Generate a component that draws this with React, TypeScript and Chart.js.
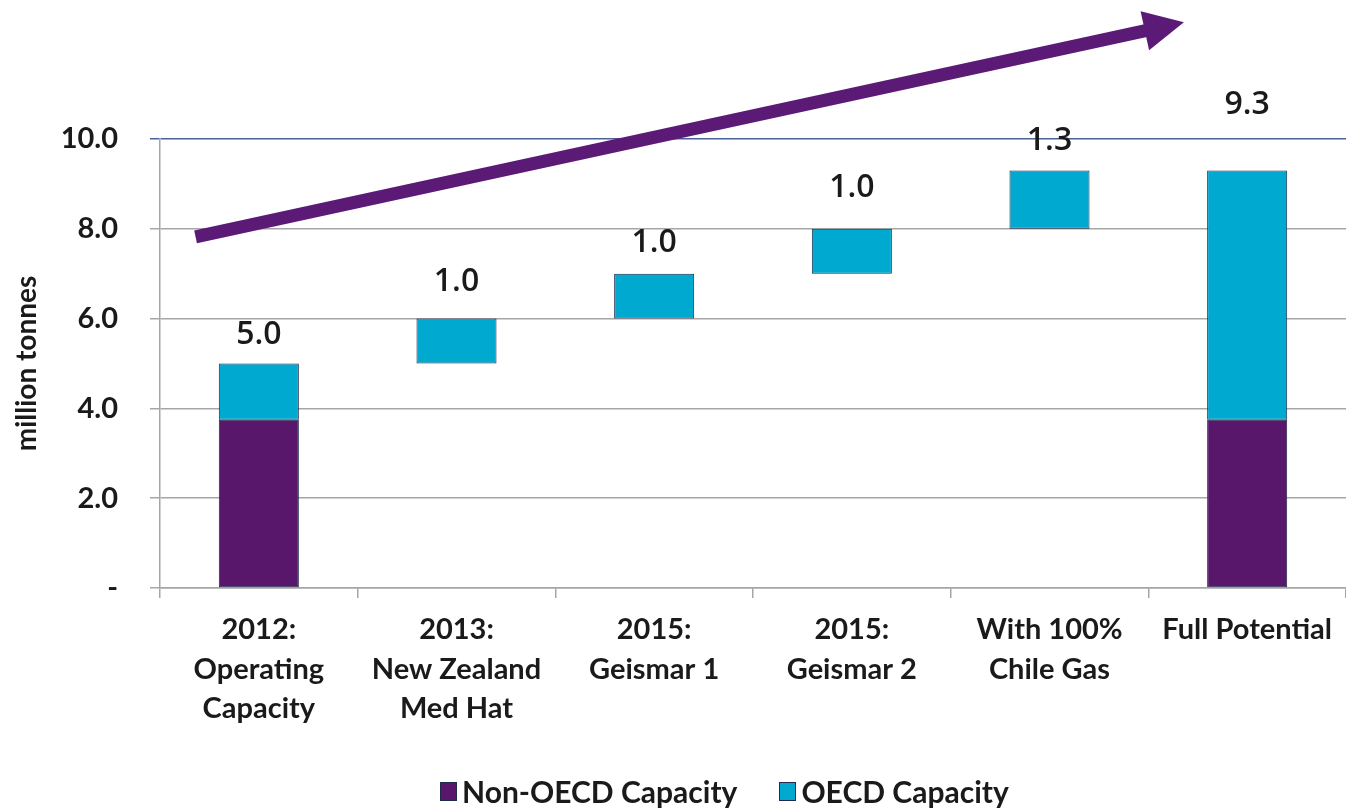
import React, { useEffect, useRef } from "react";
import { Chart, registerables } from "chart.js";

Chart.register(...registerables);

const categories: string[][] = [
  ["2012:", "Operating", "Capacity"],
  ["2013:", "New Zealand", "Med Hat"],
  ["2015:", "Geismar 1"],
  ["2015:", "Geismar 2"],
  ["With 100%", "Chile Gas"],
  ["Full Potential"],
];
const nonOecdValues: (number | null)[] = [3.75, null, null, null, null, 3.75];
const oecdStart: number[] = [3.75, 5.0, 6.0, 7.0, 8.0, 3.75];
const oecdEnd: number[] = [5.0, 6.0, 7.0, 8.0, 9.3, 9.3];
const barLabels: string[] = ["5.0", "1.0", "1.0", "1.0", "1.3", "9.3"];
const yTicks: number[] = [0, 2, 4, 6, 8, 10];
// trend arrow in data space: [category index, value]
const arrowFrom: [number, number] = [-0.32, 7.82];
const arrowTo: [number, number] = [4.68, 12.6];

const PURPLE = "#58176a";
const CYAN = "#00a9cf";
const BORDER = "#1e2b4f";
const FONT = "Lato, 'Open Sans', sans-serif";

const labelLift = [29, 37, 31, 41, 30, 66];

const overlayPlugin = {
  id: "overlay",
  afterDatasetsDraw(chart: any) {
    const { ctx, scales } = chart;
    const meta = chart.getDatasetMeta(1);
    ctx.save();
    ctx.fillStyle = "#1a1a1a";
    ctx.font = "600 32px 'Open Sans', sans-serif";
    ctx.textAlign = "center";
    ctx.textBaseline = "middle";
    meta.data.forEach((bar: any, i: number) => {
      ctx.fillText(barLabels[i], bar.x, bar.y - labelLift[i]);
    });
    // arrow
    const x0 = scales.x.getPixelForValue(arrowFrom[0]);
    const y0 = scales.y.getPixelForValue(arrowFrom[1]);
    const x1 = scales.x.getPixelForValue(arrowTo[0]);
    const y1 = scales.y.getPixelForValue(arrowTo[1]);
    const ang = Math.atan2(y1 - y0, x1 - x0);
    const headLen = 40;
    const headHalf = 20;
    const bx = x1 - headLen * Math.cos(ang);
    const by = y1 - headLen * Math.sin(ang);
    ctx.strokeStyle = "#5c1a77";
    ctx.fillStyle = "#5c1a77";
    ctx.lineWidth = 13;
    ctx.lineCap = "butt";
    ctx.beginPath();
    ctx.moveTo(x0, y0);
    ctx.lineTo(bx + 2 * Math.cos(ang), by + 2 * Math.sin(ang));
    ctx.stroke();
    ctx.beginPath();
    ctx.moveTo(x1, y1);
    ctx.lineTo(bx + headHalf * Math.sin(ang), by - headHalf * Math.cos(ang));
    ctx.lineTo(bx - headHalf * Math.sin(ang), by + headHalf * Math.cos(ang));
    ctx.closePath();
    ctx.fill();
    ctx.restore();
  },
};

export default function App() {
  const ref = useRef<HTMLCanvasElement | null>(null);
  useEffect(() => {
    if (!ref.current) return;
    const chart = new Chart(ref.current, {
      type: "bar",
      data: {
        labels: categories,
        datasets: [
          {
            label: "Non-OECD Capacity",
            data: nonOecdValues.map((v) => (v === null ? null : [0, v])) as any,
            backgroundColor: PURPLE,
            borderColor: BORDER,
            borderWidth: 1,
            borderSkipped: false,
            categoryPercentage: 1,
            barPercentage: 0.405,
          },
          {
            label: "OECD Capacity",
            data: oecdStart.map((s, i) => [s, oecdEnd[i]]) as any,
            backgroundColor: CYAN,
            borderColor: BORDER,
            borderWidth: 1,
            borderSkipped: false,
            categoryPercentage: 1,
            barPercentage: 0.405,
          },
        ],
      },
      options: {
        responsive: false,
        animation: false,
        layout: { padding: { top: 139, right: 0, left: 0, bottom: 0 } },
        plugins: {
          legend: { display: false },
          tooltip: { enabled: false },
        },
        scales: {
          x: {
            stacked: true,
            offset: true,
            afterFit: (s: any) => {
              s.height = 220;
            },
            grid: {
              offset: true,
              drawOnChartArea: false,
              drawTicks: true,
              tickLength: 10,
              color: "#a6a6a6",
              lineWidth: 1.5,
            },
            border: { display: true, color: "#a6a6a6", width: 1.5 },
            ticks: {
              color: "#1a1a1a",
              font: { family: FONT, size: 29, weight: "bold", lineHeight: 1.36 },
              padding: 12,
              maxRotation: 0,
              autoSkip: false,
            },
          },
          y: {
            stacked: false,
            min: 0,
            max: 10,
            afterFit: (s: any) => {
              s.width = 160;
            },
            afterBuildTicks: (s: any) => {
              s.ticks = yTicks.map((v) => ({ value: v }));
            },
            grid: {
              color: (c: any) => (c.tick && c.tick.value === 10 ? "#4a6394" : "#a6a6a6"),
              lineWidth: 1.5,
              tickLength: 10,
            },
            border: { display: true, color: "#a6a6a6", width: 1.5 },
            ticks: {
              color: "#1a1a1a",
              font: { family: FONT, size: 29, weight: "bold" },
              padding: 32,
              callback: (v: any) => (Number(v) === 0 ? "-" : Number(v).toFixed(1)),
            },
            title: {
              display: true,
              text: "million tonnes",
              color: "#1a1a1a",
              font: { family: FONT, size: 28, weight: "bold" },
              padding: { top: 10, bottom: 0 },
            },
          },
        },
      },
      plugins: [overlayPlugin],
    });
    return () => chart.destroy();
  }, []);

  const legendItem = (color: string, text: string) => (
    <div style={{ display: "flex", alignItems: "center" }}>
      <span
        style={{
          display: "inline-block",
          width: 15,
          height: 17,
          background: color,
          border: `1px solid ${BORDER}`,
          marginRight: 5,
        }}
      />
      <span>{text}</span>
    </div>
  );

  return (
    <div style={{ position: "absolute", left: 0, top: 0, width: 1346, height: 808, background: "#fff" }}>
      <canvas ref={ref} width={1346} height={808} style={{ display: "block" }} />
      <div
        style={{
          position: "absolute",
          left: 440,
          top: 773,
          display: "flex",
          gap: 42,
          fontFamily: FONT,
          fontWeight: "bold",
          fontSize: 30,
          color: "#1a1a1a",
          lineHeight: "36px",
        }}
      >
        {legendItem(PURPLE, "Non-OECD Capacity")}
        {legendItem(CYAN, "OECD Capacity")}
      </div>
    </div>
  );
}
